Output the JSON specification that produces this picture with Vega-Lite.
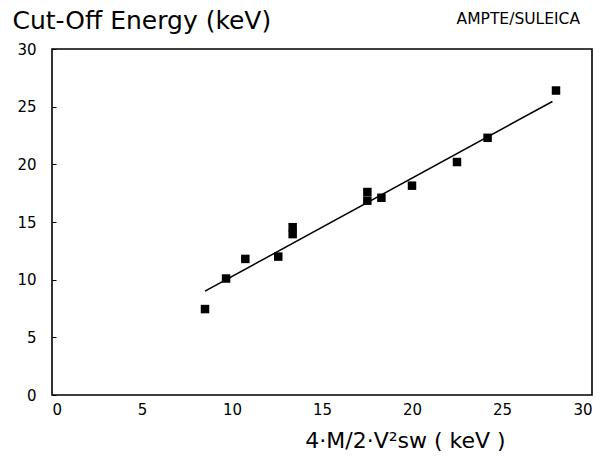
{
  "$schema": "https://vega.github.io/schema/vega-lite/v6.json",
  "width": 540,
  "height": 346,
  "autosize": {"type": "none"},
  "padding": {"left": 52, "top": 49, "right": 21, "bottom": 74},
  "background": "white",
  "config": {
    "view": {"stroke": "black", "strokeWidth": 1.6},
    "font": "DejaVu Sans",
    "axis": {"grid": false, "domain": false, "labelFont": "DejaVu Sans", "titleFont": "DejaVu Sans", "labelColor": "black", "titleColor": "black", "titleFontWeight": "normal", "labelFontSize": 15}
  },
  "title": {"text": "AMPTE/SULEICA", "anchor": "end", "orient": "top", "offset": -19, "dx": -12, "fontSize": 15.5, "fontWeight": "normal", "font": "DejaVu Sans", "color": "black"},
  "datasets": {
    "pts": [
      {"x": 8.5, "y": 7.45},
      {"x": 9.67, "y": 10.1},
      {"x": 10.74, "y": 11.8},
      {"x": 12.57, "y": 12.0},
      {"x": 13.37, "y": 14.55},
      {"x": 13.37, "y": 13.95},
      {"x": 17.52, "y": 17.6},
      {"x": 17.52, "y": 16.85},
      {"x": 18.3, "y": 17.1},
      {"x": 20.0, "y": 18.15},
      {"x": 22.5, "y": 20.2},
      {"x": 24.2, "y": 22.3},
      {"x": 28.0, "y": 26.4}
    ],
    "fit": [
      {"x": 8.5, "y": 9.0},
      {"x": 27.8, "y": 25.45}
    ]
  },
  "layer": [
    {
      "data": {"name": "fit"},
      "mark": {"type": "line", "color": "black", "strokeWidth": 1.5},
      "encoding": {
        "x": {"field": "x", "type": "quantitative", "scale": {"domain": [0, 30], "nice": false}, "axis": {"values": [0, 5, 10, 15, 20, 25, 30], "ticks": false, "labelPadding": 7, "title": "4·M/2·V²sw ( keV )", "titleFontSize": 22, "titleX": 353, "titleY": 52, "titleBaseline": "alphabetic", "titleAlign": "center"}},
        "y": {"field": "y", "type": "quantitative", "scale": {"domain": [0, 30], "nice": false}, "axis": {"values": [0, 5, 10, 15, 20, 25, 30], "tickSize": -4, "tickColor": "black", "labelPadding": 20, "title": "Cut-Off Energy (keV)", "titleFontSize": 25, "titleAngle": 0, "titleAlign": "left", "titleBaseline": "alphabetic", "titleX": -40, "titleY": -21}}
      }
    },
    {
      "data": {"name": "pts"},
      "mark": {"type": "square", "color": "black", "filled": true, "size": 72, "opacity": 1},
      "encoding": {
        "x": {"field": "x", "type": "quantitative"},
        "y": {"field": "y", "type": "quantitative"}
      }
    }
  ]
}
